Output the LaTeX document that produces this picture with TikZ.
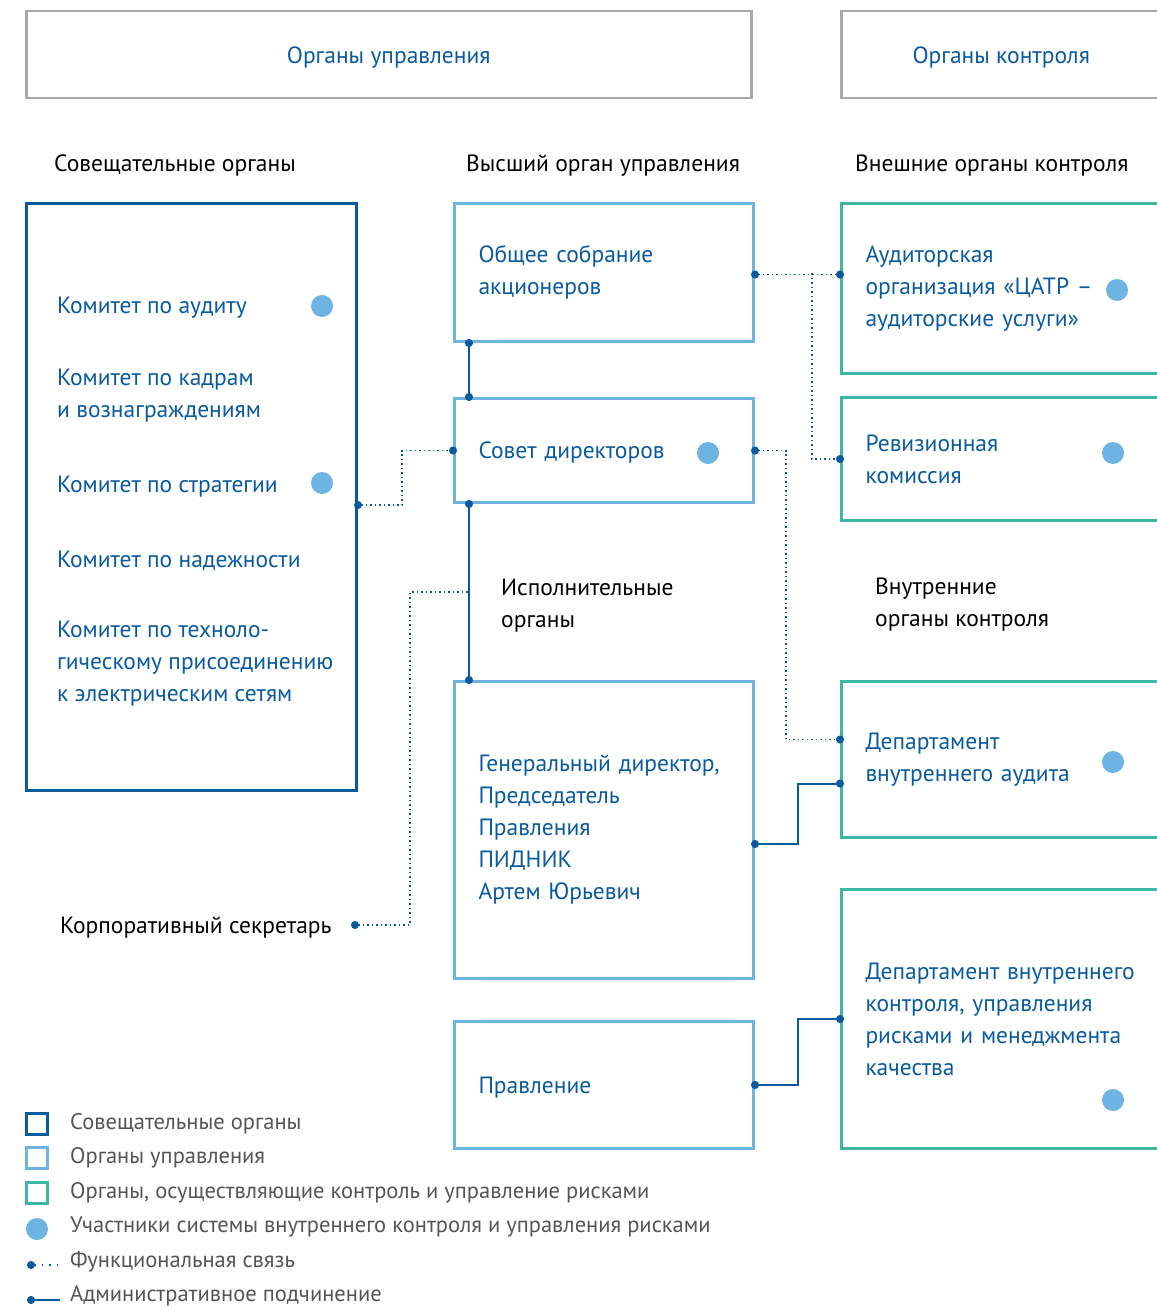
\documentclass[tikz,border=0pt]{standalone}
\usepackage{fontspec}
\setmainfont{PT Sans}
\usetikzlibrary{calc,arrows.meta}
\definecolor{rsdark}{HTML}{0A5A9F}
\definecolor{rslight}{HTML}{6DB4E3}
\definecolor{rsteal}{HTML}{3DB6A6}
\definecolor{rsgrey}{HTML}{A8A8A8}
\definecolor{rstext}{HTML}{555555}
\tikzset{every node/.style={font=\fontsize{23.5}{32}\selectfont},
  frame/.style={draw=rsgrey,line width=2.5pt,minimum height=87pt,text=rsdark,
    text depth=0pt,anchor=north west},
  advbox/.style={draw=rsdark,line width=3pt,anchor=north west},
  mgmt/.style={draw=rslight,line width=3pt,text=rsdark,align=left,anchor=north west,
    inner xsep=24pt,text width=251pt,minimum width=299pt},
  ctrl/.style={draw=rsteal,line width=3pt,text=rsdark,align=left,anchor=north west,
    inner xsep=24pt,text width=280pt,minimum width=328pt},
  head/.style={anchor=west,inner sep=0pt,align=left,text depth=0pt},
  item/.style={anchor=west,inner sep=0pt,text=rsdark,align=left,text depth=0pt},
  member/.style={circle,fill=rslight,minimum size=22pt,inner sep=0pt},
  func/.style={draw=rsdark,line width=1.5pt,dash pattern=on 1.5pt off 3pt},
  admin/.style={draw=rsdark,line width=2pt},
  dots/.style={arrows={Circle[length=8pt]}-{Circle[length=8pt]},shorten <=-4pt,shorten >=-4pt},
  dotstart/.style={arrows={Circle[length=8pt]}-,shorten <=-4pt},
  dotend/.style={arrows=-{Circle[length=8pt]},shorten >=-4pt},
  legtext/.style={anchor=west,inner sep=0pt,text=rstext,font=\fontsize{22.5}{27}\selectfont},
  key/.style={line width=2.5pt,minimum size=21pt,inner sep=0pt}}

\begin{document}
\begin{tikzpicture}[x=1pt,y=-1pt]
  \path[use as bounding box] (0,0) rectangle (1156,1308);
  % top frames
  \node[frame,minimum width=725pt] (mgmthead) at (25,10) {Органы управления};
  \node[frame,minimum width=320pt] (ctrlhead) at (840,10) {Органы контроля};
  % column titles
  \node[head] (advtitle) at (54,163) {Совещательные органы};
  \node[head] (toptitle) at (466,163) {Высший орган управления};
  \node[head] (exttitle) at (855,163) {Внешние органы контроля};
  \node[head] (exectitle) at (501,603) {Исполнительные\\органы};
  \node[head] (inttitle) at (875,602) {Внутренние\\органы контроля};
  % advisory committees
  \node[advbox,minimum width=330pt,minimum height=587pt] (adv) at (25,202) {};
  \foreach \y/\name/\txt in {305/aud/{Комитет по аудиту},
      393/hr/{Комитет по кадрам\\и вознаграждениям},
      484/str/{Комитет по стратегии},559/rel/{Комитет по надежности},
      661/tech/{Комитет по техноло-\\гическому присоединению\\к электрическим сетям}}
    \node[item] (\name) at (57,\y) {\txt};
  \node[member] (audm) at (322,306) {};
  \node[member] (strm) at (322,483) {};
  % management bodies
  \node[mgmt,minimum height=138pt] (gms) at (453,202) {Общее собрание\\акционеров};
  \node[mgmt,minimum height=104pt,text depth=0pt] (bod) at (453,397) {Совет директоров};
  \node[member] (bodm) at (708,453) {};
  \node[mgmt,minimum height=297pt] (ceo) at (453,680)
    {Генеральный директор,\\Председатель\\Правления\\ПИДНИК\\Артем Юрьевич};
  \node[mgmt,minimum height=127pt,text depth=0pt] (board) at (453,1020) {Правление};
  % control bodies
  \node[ctrl,minimum height=170pt] (audit) at (840,202)
    {Аудиторская\\организация «ЦАТР –\\аудиторские услуги»};
  \node[member] (auditm) at (1117,290) {};
  \node[ctrl,minimum height=123pt] (rev) at (840,396) {Ревизионная\\комиссия};
  \node[member] (revm) at (1113,453) {};
  \node[ctrl,minimum height=156pt] (ia) at (840,680) {Департамент\\внутреннего аудита};
  \node[member] (iam) at (1113,762) {};
  \node[ctrl,minimum height=259pt] (ic) at (840,888)
    {Департамент внутреннего\\контроля, управления\\рисками и менеджмента\\качества};
  \node[member] (icm) at (1113,1100) {};
  % secretary
  \node[head] (sec) at (60,925) {Корпоративный секретарь};
  \coordinate (secpin) at (355,925);
  \coordinate (secjoin) at (469,592);
  \coordinate (audbranch) at (812,273);
  % connectors
  \draw[admin,dots] ($(gms.south west)+(16,0)$) -- ($(bod.north west)+(16,0)$);
  \draw[admin,dots] ($(bod.south west)+(16,0)$) -- ($(ceo.north west)+(16,0)$);
  \draw[func,dots] ($(adv.east)+(0,8)$) -- ++(44,0) |- (bod.west);
  \draw[func,dots] ($(gms.east)+(0,2)$) -- ($(audit.west)+(0,-14)$);
  \draw[func,dotend] (audbranch) |- (rev.west);
  \draw[func,dots] (bod.east) -- ++(31,0) |- ($(ia.west)+(0,-20)$);
  \draw[admin,dots] ($(ceo.east)+(0,14)$) -- ++(43,0) |- ($(ia.west)+(0,24)$);
  \draw[admin,dots] (board.east) -- ++(43,0) |- (ic.west);
  \draw[func,dotstart] (secpin) -- ++(55,0) |- (secjoin);
  % legend
  \foreach \y/\col/\name/\txt in {1124/rsdark/keyadv/{Совещательные органы},
      1158/rslight/keymgmt/{Органы управления},
      1193/rsteal/keyctrl/{Органы, осуществляющие контроль и управление рисками}} {
    \node[key,draw=\col] (\name) at (37,\y) {};
    \node[legtext] at (70,\y) {\txt};
  }
  \node[member] (keym) at (37,1229) {};
  \node[legtext] at (70,1227) {Участники системы внутреннего контроля и управления рисками};
  \coordinate (keyfa) at (31,1265);
  \coordinate (keyfb) at (62,1265);
  \draw[func,dotstart,dash pattern=on 1.5pt off 6pt] (keyfa) -- (keyfb);
  \node[legtext] at (70,1262) {Функциональная связь};
  \coordinate (keyaa) at (31,1300);
  \coordinate (keyab) at (60,1300);
  \draw[admin,dotstart] (keyaa) -- (keyab);
  \node[legtext] at (70,1296) {Административное подчинение};
\end{tikzpicture}
\end{document}
